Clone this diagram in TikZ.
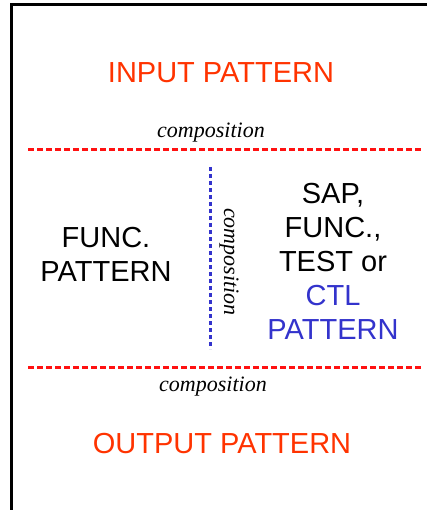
\documentclass[tikz,border=0pt]{standalone}
\usepackage{fontspec}
\setmainfont{Liberation Sans}
\newfontfamily\serifit{Liberation Serif}
\definecolor{pred}{HTML}{FF3300}
\definecolor{lred}{HTML}{FF1111}
\definecolor{pblue}{HTML}{3333CC}
\begin{document}
\begin{tikzpicture}[x=1pt,y=-1pt,
  big/.style={font=\fontsize{29}{34}\selectfont, inner sep=0pt, align=center},
  comp/.style={font=\serifit\itshape\fontsize{22}{26}\selectfont, inner sep=0pt},
  sep/.style={lred, line width=2.5pt, dash pattern=on 6pt off 3pt},
  vsep/.style={pblue, line width=2.5pt, dash pattern=on 4pt off 3pt}]
\useasboundingbox (0,0) rectangle (427,510);
\draw[line width=3pt, line cap=butt] (11.5,510) -- (11.5,5) -- (427,5);
\node[big, text=pred] (in) at (221,73) {INPUT PATTERN};
\node[comp] (c1) at (211,133) {composition};
\coordinate (s1a) at (28,149.5);
\coordinate (s1b) at (421,149.5);
\draw[sep] (s1a) -- (s1b);
\node[big] (func) at (106,254) {FUNC.\\PATTERN};
\coordinate (v1) at (210.5,167);
\coordinate (v2) at (210.5,349);
\draw[vsep] (v1) -- (v2);
\node[comp, rotate=-90] (c2) at (229,262) {composition};
\node[big] (right) at (333,261) {SAP,\\FUNC.,\\TEST or\\\textcolor{pblue}{CTL}\\\textcolor{pblue}{PATTERN}};
\coordinate (s2a) at (28,367.5);
\coordinate (s2b) at (421,367.5);
\draw[sep] (s2a) -- (s2b);
\node[comp] (c3) at (213,387) {composition};
\node[big, text=pred] (out) at (222,444) {OUTPUT PATTERN};
\end{tikzpicture}
\end{document}
